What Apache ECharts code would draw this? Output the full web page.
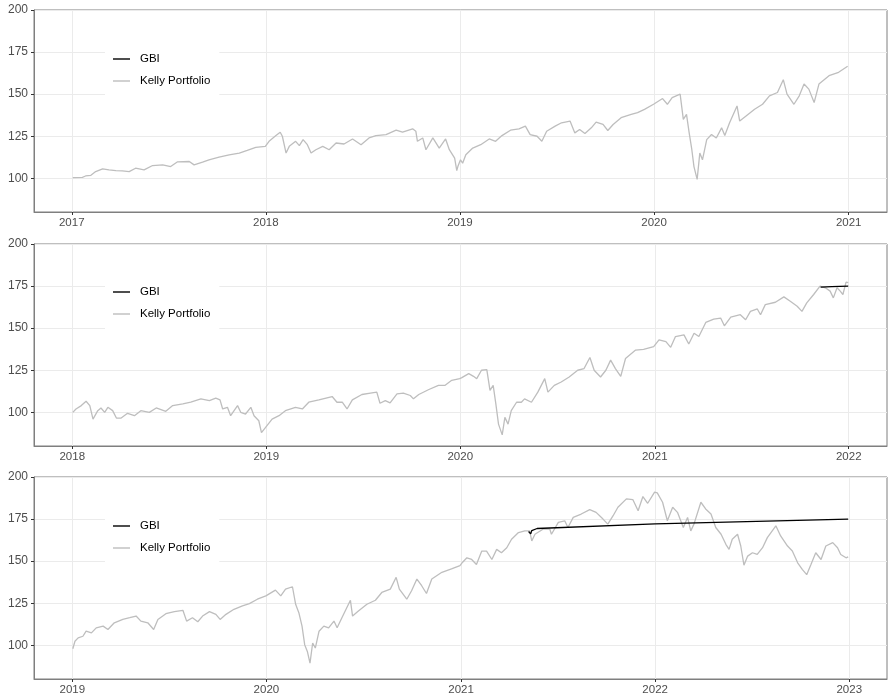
<!DOCTYPE html>
<html>
<head>
<meta charset="utf-8">
<script src="https://cdn.jsdelivr.net/npm/echarts@6/dist/echarts.min.js"></script>
<style>html,body{margin:0;padding:0;background:#fff}#c{width:888px;height:700px}</style>
</head>
<body>
<div id="c"></div>
<script>
// ---------- data ----------
const yTicks = [100, 125, 150, 175, 200];
const years1 = [2017, 2018, 2019, 2020, 2021];
const years2 = [2018, 2019, 2020, 2021, 2022];
const years3 = [2019, 2020, 2021, 2022, 2023];
const xRange1 = ['2016-10-22', '2021-03-14'];
const xRange2 = ['2017-10-21', '2022-03-14'];
const xRange3 = ['2018-10-21', '2023-03-13'];

const kelly1 = [
['2017-01-03',100.4],['2017-01-21',100.6],['2017-01-27',101.4],['2017-02-06',101.8],['2017-02-15',104],['2017-02-28',105.6],
['2017-03-12',105],['2017-03-25',104.6],['2017-04-06',104.4],['2017-04-19',104],['2017-05-01',106],['2017-05-17',105],
['2017-06-02',107.6],['2017-06-21',108],['2017-07-06',107],['2017-07-19',109.8],['2017-08-10',110],['2017-08-19',108],
['2017-09-04',109.6],['2017-09-16',111],['2017-10-05',112.6],['2017-10-24',114],['2017-11-12',115],['2017-11-27',116.6],
['2017-12-13',118.4],['2017-12-31',119],['2018-01-07',122],['2018-01-20',125.4],['2018-01-28',127.4],['2018-02-01',125],
['2018-02-08',115],['2018-02-14',119],['2018-02-26',122],['2018-03-05',119.4],['2018-03-12',123],['2018-03-20',120],
['2018-03-27',115],['2018-04-05',117],['2018-04-18',119],['2018-04-30',117],['2018-05-13',121],['2018-05-28',120.4],
['2018-06-13',123.4],['2018-06-29',120],['2018-07-14',124],['2018-07-27',125.4],['2018-08-15',126],['2018-09-03',128.6],
['2018-09-15',127.4],['2018-10-04',129.4],['2018-10-10',128],['2018-10-13',122],['2018-10-23',124],['2018-10-29',117],
['2018-11-11',124],['2018-11-23',118],['2018-12-05',123.4],['2018-12-12',117],['2018-12-22',112],['2018-12-26',104.6],
['2018-12-28',107],['2019-01-02',111],['2019-01-06',109],['2019-01-12',114],['2019-01-25',118],['2019-02-09',120],
['2019-02-25',123.4],['2019-03-09',122],['2019-03-21',125.4],['2019-04-06',128.6],['2019-04-22',129.4],['2019-05-04',131],
['2019-05-13',126],['2019-05-26',125],['2019-06-04',122],['2019-06-13',128],['2019-06-29',131],['2019-07-11',133],
['2019-07-27',134],['2019-08-05',127],['2019-08-14',129],['2019-08-24',126.6],['2019-09-05',130],['2019-09-14',133.4],
['2019-09-27',132],['2019-10-06',128.4],['2019-10-16',132],['2019-10-31',136],['2019-11-19',138],['2019-12-01',139],
['2019-12-14',141],['2019-12-31',144],['2020-01-17',147.4],['2020-01-26',144],['2020-02-04',148],['2020-02-19',150],
['2020-02-25',135],['2020-03-02',138],['2020-03-07',127],['2020-03-12',117],['2020-03-16',107],['2020-03-22',99.4],
['2020-03-27',115],['2020-04-01',111],['2020-04-09',123],['2020-04-18',126],['2020-04-27',124],['2020-05-07',130],
['2020-05-13',125.4],['2020-05-22',133],['2020-06-05',143],['2020-06-10',134],['2020-06-22',137],['2020-07-08',141],
['2020-07-23',144],['2020-08-05',149],['2020-08-20',151],['2020-08-31',158.6],['2020-09-07',150],['2020-09-20',144],
['2020-09-30',149],['2020-10-09',156],['2020-10-18',153],['2020-10-28',145],['2020-11-06',156],['2020-11-25',161],
['2020-12-13',163],['2020-12-30',166.6]
];
const gbi1 = [];

const kelly2 = [
['2018-01-02',100],['2018-01-08',102],['2018-01-18',104],['2018-01-27',106.6],['2018-02-03',104],['2018-02-09',96],
['2018-02-18',101],['2018-02-24',102.6],['2018-03-03',100],['2018-03-09',103],['2018-03-18',101],['2018-03-25',96.6],
['2018-04-03',96.6],['2018-04-15',99.4],['2018-04-28',98],['2018-05-10',101],['2018-05-26',100],['2018-06-08',102.6],
['2018-06-26',100.6],['2018-07-09',104],['2018-07-28',105],['2018-08-12',106],['2018-08-31',108],['2018-09-16',107],
['2018-09-28',108.4],['2018-10-06',107.4],['2018-10-11',102],['2018-10-20',103],['2018-10-26',98],['2018-11-08',104],
['2018-11-14',100],['2018-11-23',99],['2018-12-03',103],['2018-12-09',98],['2018-12-18',95],['2018-12-23',88],
['2019-01-02',92],['2019-01-12',96],['2019-01-25',98],['2019-02-06',101],['2019-02-25',103],['2019-03-10',102],
['2019-03-22',106],['2019-04-10',107.4],['2019-05-05',109.4],['2019-05-14',106],['2019-05-24',106],['2019-06-02',102],
['2019-06-12',107.4],['2019-06-30',110.6],['2019-07-16',111.4],['2019-07-28',112],['2019-08-03',105.4],['2019-08-13',107],
['2019-08-22',105.6],['2019-09-04',111],['2019-09-16',111.4],['2019-09-29',110],['2019-10-05',108],['2019-10-15',110.6],
['2019-11-02',113.4],['2019-11-21',116],['2019-12-03',116],['2019-12-16',119],['2019-12-31',120],['2020-01-04',120.6],
['2020-01-17',123],['2020-01-26',121.4],['2020-02-01',120],['2020-02-10',125],['2020-02-20',125.4],['2020-02-26',113],
['2020-03-03',116],['2020-03-08',105],['2020-03-13',93],['2020-03-20',86.6],['2020-03-25',97],['2020-03-31',93],
['2020-04-06',101],['2020-04-16',106],['2020-04-25',106],['2020-05-01',108],['2020-05-14',106],['2020-05-26',112],
['2020-06-08',120],['2020-06-14',112],['2020-06-26',116],['2020-07-09',118],['2020-07-24',121],['2020-08-09',125],
['2020-08-21',126],['2020-09-01',132.6],['2020-09-09',125],['2020-09-21',121],['2020-10-01',125],['2020-10-10',131],
['2020-10-19',126],['2020-10-29',121.4],['2020-11-07',132],['2020-11-26',137],['2020-12-11',137.4],['2020-12-30',139],
['2021-01-09',143],['2021-01-22',142],['2021-01-31',138.6],['2021-02-09',145],['2021-02-25',146],['2021-03-06',140.6],
['2021-03-16',147],['2021-03-25',145],['2021-04-07',153.4],['2021-04-22',155.4],['2021-05-05',156],['2021-05-12',151.4],
['2021-05-24',156.6],['2021-06-11',158],['2021-06-21',155],['2021-06-30',160],['2021-07-13',161.4],['2021-07-19',158],
['2021-07-28',164],['2021-08-16',165.4],['2021-09-01',168.6],['2021-09-13',166],['2021-09-26',163],['2021-10-05',160],
['2021-10-14',165],['2021-10-27',170],['2021-11-08',175],['2021-11-18',174],['2021-11-27',172],['2021-12-03',168],
['2021-12-10',174],['2021-12-16',172],['2021-12-21',170],['2021-12-27',177.4],['2021-12-31',177]
];
const gbi2 = [['2021-11-09',174.4],['2021-11-30',174.7],['2021-12-31',175.0]];

const kelly3 = [
['2019-01-02',98],['2019-01-06',102.4],['2019-01-12',104.4],['2019-01-21',105.4],['2019-01-27',108.4],['2019-02-06',107.4],
['2019-02-15',110.4],['2019-02-28',111.4],['2019-03-09',109.4],['2019-03-21',113.4],['2019-04-06',115.4],['2019-04-19',116.4],
['2019-05-01',117.4],['2019-05-10',114.4],['2019-05-23',113.4],['2019-06-03',109.4],['2019-06-11',115.4],['2019-06-26',118.8],
['2019-07-12',120],['2019-07-28',120.8],['2019-08-04',114.4],['2019-08-15',116.4],['2019-08-25',114],['2019-09-03',117.4],
['2019-09-16',120],['2019-09-28',118.4],['2019-10-06',115.4],['2019-10-17',118.4],['2019-11-01',121.4],['2019-11-17',123.4],
['2019-11-30',124.8],['2019-12-15',127.4],['2019-12-31',129.4],['2020-01-18',132.8],['2020-01-28',129.4],['2020-02-06',133.4],
['2020-02-19',134.8],['2020-02-25',124.4],['2020-03-02',119.4],['2020-03-08',111.4],['2020-03-13',100.4],['2020-03-18',96.4],
['2020-03-23',89.4],['2020-03-28',101.4],['2020-04-02',98.4],['2020-04-09',108.4],['2020-04-18',111.4],['2020-04-27',110.4],
['2020-05-07',114.4],['2020-05-13',110.4],['2020-05-22',116.4],['2020-06-07',126.8],['2020-06-11',117.4],['2020-06-22',120.4],
['2020-07-08',124.4],['2020-07-24',126.8],['2020-08-05',131.4],['2020-08-21',133.4],['2020-09-01',140.4],['2020-09-07',133.4],
['2020-09-21',127.4],['2020-09-30',132.4],['2020-10-10',139.4],['2020-10-19',135.4],['2020-10-28',130.8],['2020-11-07',139.4],
['2020-11-26',143.4],['2020-12-14',145.4],['2020-12-30',147.4],['2021-01-04',149.4],['2021-01-12',152],['2021-01-21',151],
['2021-01-30',148],['2021-02-09',156],['2021-02-18',156],['2021-02-28',151],['2021-03-09',157],['2021-03-18',155],
['2021-03-28',158],['2021-04-06',163],['2021-04-19',167],['2021-05-01',168],['2021-05-10',168],['2021-05-14',162],
['2021-05-20',166],['2021-06-04',169],['2021-06-17',169],['2021-06-20',166],['2021-07-03',173],['2021-07-15',174],
['2021-07-21',170],['2021-07-31',176],['2021-08-15',178],['2021-08-31',180.6],['2021-09-12',179],['2021-09-25',175],
['2021-10-04',172],['2021-10-14',177],['2021-10-23',182],['2021-11-08',187],['2021-11-20',186.6],['2021-11-30',180],
['2021-12-09',188.4],['2021-12-18',184.4],['2021-12-31',191],['2022-01-05',190.6],['2022-01-15',185],['2022-01-24',174],
['2022-02-03',182],['2022-02-12',179],['2022-02-23',170],['2022-03-03',176],['2022-03-09',168],['2022-03-15',172],
['2022-03-28',185],['2022-04-06',181],['2022-04-16',178],['2022-04-25',170],['2022-05-05',166],['2022-05-14',160],
['2022-05-20',157],['2022-05-26',163],['2022-06-05',166],['2022-06-11',159],['2022-06-17',147.6],['2022-06-24',153],
['2022-07-03',155],['2022-07-12',154],['2022-07-22',158],['2022-07-31',164],['2022-08-16',171],['2022-08-25',165],
['2022-09-07',159],['2022-09-16',156],['2022-09-26',149],['2022-10-05',145],['2022-10-13',142],['2022-10-21',148],
['2022-10-30',155],['2022-11-09',151],['2022-11-18',159],['2022-12-01',161],['2022-12-10',158],['2022-12-16',154],
['2022-12-26',152],['2022-12-30',152.6]
];
const gbi3 = [['2021-05-08',167.6],['2021-05-12',166.2],['2021-05-14',168.2],['2021-05-24',169.4],['2022-01-01',172.2],['2022-12-30',175.0]];

// ---------- chart ----------
const chart = echarts.init(document.getElementById('c'), null, {renderer: 'canvas'});
const ts = s => echarts.time.parse(s).getTime();
const tickColor = '#4D4D4D';
const borderColor = '#7F7F7F';
const FONT = 'Liberation Sans, Arial, sans-serif';
const gridTops = [10, 244, 477];
const legendTops = [44, 277, 511];
const yearsAll = [years1, years2, years3];
const ranges = [xRange1, xRange2, xRange3];
const kellys = [kelly1, kelly2, kelly3];
const gbis = [gbi1, gbi2, gbi3];

const grids = [], xAxes = [], yAxes = [], series = [], legends = [];
for (let i = 0; i < 3; i++) {
  grids.push({left: 34, right: 1, top: gridTops[i], height: 202, show: true,
    borderColor: borderColor, borderWidth: 1, backgroundColor: '#fff', containLabel: false});
  const yt = yearsAll[i].map(y => ts(y + '-01-01'));
  xAxes.push({type: 'value', gridIndex: i, min: ts(ranges[i][0]), max: ts(ranges[i][1]),
    axisLine: {show: true, onZero: false, lineStyle: {color: borderColor, width: 1}},
    axisTick: {show: true, length: 3, lineStyle: {color: '#333'}, customValues: yt},
    axisLabel: {customValues: yt, color: tickColor, fontSize: 11.5, fontFamily: FONT, margin: 5,
      showMinLabel: true, showMaxLabel: true,
      formatter: v => String(new Date(v).getFullYear())},
    splitLine: {show: true, lineStyle: {color: '#EBEBEB', width: 1}}
  });
  yAxes.push({type: 'value', gridIndex: i, min: 80, max: 200,
    axisLine: {show: true, lineStyle: {color: borderColor, width: 1}},
    axisTick: {show: true, length: 3, lineStyle: {color: '#333'}, customValues: yTicks},
    axisLabel: {customValues: yTicks, color: tickColor, fontSize: 12, fontFamily: FONT, margin: 6},
    splitLine: {show: true, lineStyle: {color: '#EBEBEB', width: 1}}
  });
  series.push({name: 'Kelly Portfolio', type: 'line', xAxisIndex: i, yAxisIndex: i,
    data: kellys[i].map(d => [ts(d[0]), d[1]]),
    symbol: 'none', lineStyle: {color: '#BEBEBE', width: 1.3}, itemStyle: {color: '#BEBEBE'}, z: 2});
  series.push({name: 'GBI', type: 'line', xAxisIndex: i, yAxisIndex: i,
    data: gbis[i].map(d => [ts(d[0]), d[1]]),
    symbol: 'none', lineStyle: {color: '#000', width: 1.3}, itemStyle: {color: '#000'}, z: 3});
  legends.push({orient: 'vertical', left: 105, top: legendTops[i], data: ['GBI', 'Kelly Portfolio'],
    backgroundColor: '#fff', padding: [8, 9, 9, 8], icon: 'rect', itemWidth: 17, itemHeight: 1.4, itemGap: 8,
    selectedMode: false,
    textStyle: {color: '#000', fontSize: 11.5, lineHeight: 14, fontFamily: FONT, padding: [0, 0, 0, 5]}});
}

chart.setOption({
  animation: false,
  backgroundColor: '#fff',
  grid: grids, xAxis: xAxes, yAxis: yAxes, series: series, legend: legends
});
</script>
</body>
</html>
